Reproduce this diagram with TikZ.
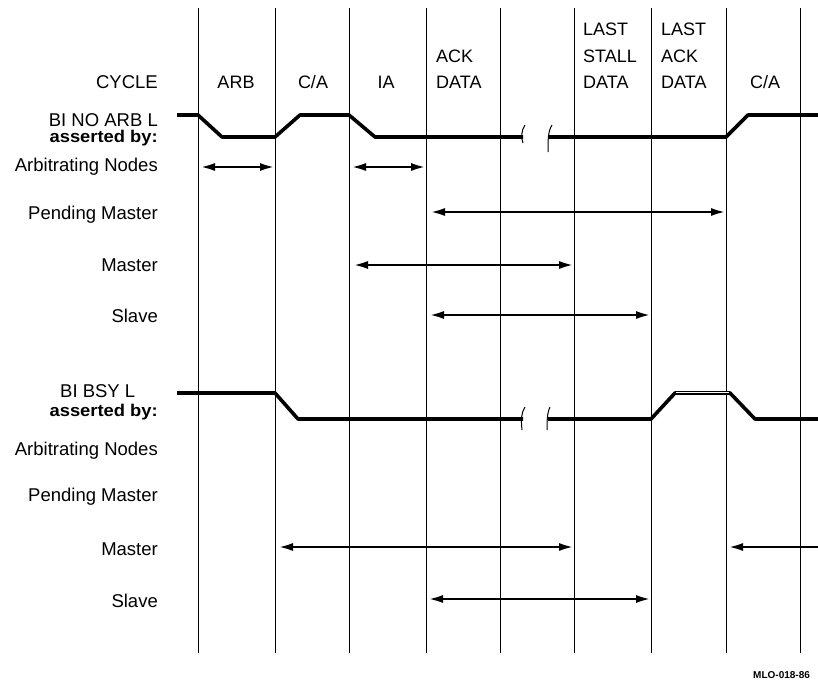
\documentclass[tikz,border=0pt]{standalone}
\usepackage{fontspec}
\setmainfont{Liberation Sans}
\usetikzlibrary{arrows.meta}
\begin{document}
\begin{tikzpicture}[x=1pt,y=-1pt,
  gridline/.style={line width=0.8pt},
  wave/.style={line width=3.6pt, line join=round},
  brk/.style={line width=1pt},
  tspan/.style={line width=2.6pt, {Latex[length=15pt,width=8pt]}-{Latex[length=15pt,width=8pt]}},
  lspan/.style={line width=2.6pt, {Latex[length=15pt,width=8pt]}-},
  lbl/.style={font=\fontsize{18.5}{20}\selectfont, inner sep=0pt},
  abl/.style={font=\fontsize{17}{19}\selectfont\bfseries, inner sep=0pt, xscale=1.08},
  cyc/.style={font=\fontsize{18}{20}\selectfont, inner sep=0pt, anchor=base}
]
\useasboundingbox (0,0) rectangle (818,681);

% grid line coordinates
\foreach \n/\x in {1/198,2/275,3/349,4/426,5/500,6/574,7/651,8/726,9/800}{
  \coordinate (t\n) at (\x,8);
  \coordinate (b\n) at (\x,653);
  \draw[gridline] (t\n) -- (b\n);
}

% cycle labels
\node[lbl, anchor=base east] (cycle) at (158,88) {CYCLE};
\node[cyc] (arb) at (236,88) {ARB};
\node[cyc] (ca1) at (313,88) {C/A};
\node[cyc] (ia) at (386,88) {IA};
\node[cyc, anchor=base west] (ack1) at (436,62) {ACK};
\node[cyc, anchor=base west] (dat1) at (436,88) {DATA};
\node[cyc, anchor=base west] (last1) at (583,35) {LAST};
\node[cyc, anchor=base west] (stall) at (583,62) {STALL};
\node[cyc, anchor=base west] (dat2) at (583,88) {DATA};
\node[cyc, anchor=base west] (last2) at (661,35) {LAST};
\node[cyc, anchor=base west] (ack2) at (661,62) {ACK};
\node[cyc, anchor=base west] (dat3) at (661,88) {DATA};
\node[cyc] (ca2) at (765,88) {C/A};

% left labels, upper group
\node[lbl, anchor=base east] (noarb) at (158,126) {BI NO ARB L};
\node[abl, anchor=base east] (asby1) at (158,142) {asserted by:};
\node[lbl, anchor=base east] (arbn1) at (158,171) {Arbitrating Nodes};
\node[lbl, anchor=base east] (pend1) at (158,219) {Pending Master};
\node[lbl, anchor=base east] (mast1) at (158,271) {Master};
\node[lbl, anchor=base east] (slav1) at (158,322) {Slave};

% left labels, lower group
\node[lbl, anchor=base west] (bsy) at (60,397) {BI BSY L};
\node[abl, anchor=base east] (asby2) at (158,416) {asserted by:};
\node[lbl, anchor=base east] (arbn2) at (158,455) {Arbitrating Nodes};
\node[lbl, anchor=base east] (pend2) at (158,501) {Pending Master};
\node[lbl, anchor=base east] (mast2) at (158,555) {Master};
\node[lbl, anchor=base east] (slav2) at (158,607) {Slave};

% BI NO ARB L waveform
\draw[wave] (177,115) -- (198,115) -- (222,137) -- (275,137) -- (300,115)
  -- (349,115) -- (375,137) -- (523,137);
\draw[wave] (548,137) -- (726,137) -- (748,115) -- (818,115);
\draw[brk] (525,125) .. controls (521,131) and (521,138) .. (523,143);
\draw[brk] (552,125) .. controls (548,131) and (548,140) .. (548,152);

% BI BSY L waveform
\draw[wave] (177,393) -- (275,393) -- (298,419) -- (523,419);
\draw[wave] (548,419) -- (651,419) -- (675,393) -- (730,393) -- (755,419) -- (818,419);
\draw[white, line width=0.7pt] (676,392.5) -- (729,392.5);
\draw[brk] (525,407) .. controls (521,413) and (521,420) .. (522,430);
\draw[brk] (550,407) .. controls (547,413) and (547,422) .. (547,430);

% row coordinates
\coordinate (rA1) at (0,167);
\coordinate (rP1) at (0,212);
\coordinate (rM1) at (0,265);
\coordinate (rS1) at (0,315);
\coordinate (rM2) at (0,547);
\coordinate (rS2) at (0,599);

% spans, upper group
\draw[tspan] ([xshift=2pt]t1 |- rA1) -- (t2 |- rA1);
\draw[tspan] ([xshift=2pt]t3 |- rA1) -- (t4 |- rA1);
\draw[tspan] ([xshift=4pt]t4 |- rP1) -- (t8 |- rP1);
\draw[tspan] ([xshift=4pt]t3 |- rM1) -- (t6 |- rM1);
\draw[tspan] ([xshift=3pt]t4 |- rS1) -- (t7 |- rS1);

% spans, lower group
\draw[tspan] ([xshift=3pt]t2 |- rM2) -- (t6 |- rM2);
\coordinate (mEnd) at (818,547);
\draw[lspan] ([xshift=2pt]t8 |- rM2) -- (mEnd);
\draw[tspan] ([xshift=2pt]t4 |- rS2) -- (t7 |- rS2);

% figure id
\node[font=\fontsize{10}{12}\selectfont\bfseries, inner sep=0pt, anchor=base west] (fid) at (753,678) {MLO-018-86};
\end{tikzpicture}
\end{document}
